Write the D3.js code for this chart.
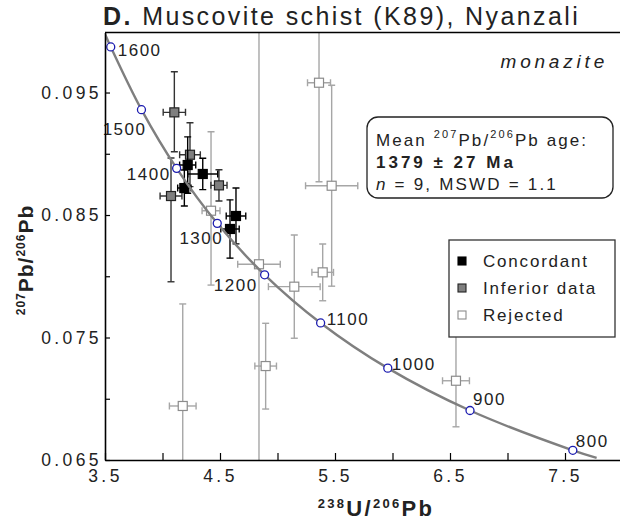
<!DOCTYPE html>
<html>
<head>
<meta charset="utf-8">
<script src="https://cdn.jsdelivr.net/npm/d3@7"></script>
<style>
html, body { margin: 0; padding: 0; background: #fff; }
svg { display: block; font-family: "Liberation Sans", Arial, sans-serif; }
</style>
</head>
<body>
<div id="chart"></div>
<script>
// concordia curve (Tera-Wasserburg), ages in Ma with their ratios
const ages = [1620, 1600, 1500, 1400, 1300, 1200, 1100, 1000, 900, 800, 780];
const concordiaU = [3.500, 3.550, 3.817, 4.123, 4.476, 4.888, 5.375, 5.959, 6.674, 7.568, 7.775];
const concordiaPb = [0.09978, 0.09872, 0.09360, 0.08881, 0.08432, 0.08012, 0.07619, 0.07250, 0.06904, 0.06579, 0.06518];
const markedAges = [1600, 1500, 1400, 1300, 1200, 1100, 1000, 900, 800];

// spots: 238U/206Pb, 207Pb/206Pb, x error, y error below, y error above
const concordant = [
	{ u: 4.219, pb: 0.08908, su: 0.07, lo: 0.0023, hi: 0.0023 },
	{ u: 4.350, pb: 0.08835, su: 0.13, lo: 0.00128, hi: 0.00128 },
	{ u: 4.190, pb: 0.08720, su: 0.058, lo: 0.00147, hi: 0.00147 },
	{ u: 4.639, pb: 0.08492, su: 0.085, lo: 0.00228, hi: 0.00228 },
	{ u: 4.587, pb: 0.08386, su: 0.08, lo: 0.00238, hi: 0.00238 }
];
const inferior = [
	{ u: 4.103, pb: 0.09338, su: 0.097, lo: 0.00322, hi: 0.00331 },
	{ u: 4.239, pb: 0.08992, su: 0.09, lo: 0.0026, hi: 0.00261 },
	{ u: 4.491, pb: 0.08742, su: 0.07, lo: 0.00128, hi: 0.00128 },
	{ u: 4.074, pb: 0.08655, su: 0.095, lo: 0.0070, hi: 0.0031 }
];
const rejected = [
	{ u: 4.422, pb: 0.08535, su: 0.078, lo: 0.00607, hi: 0.00645 },
	{ u: 4.839, pb: 0.08098, su: 0.185, lo: 0.02, hi: 0.02 },
	{ u: 5.361, pb: 0.09580, su: 0.10, lo: 0.00808, hi: 0.00808 },
	{ u: 5.471, pb: 0.08739, su: 0.227, lo: 0.0082, hi: 0.0082 },
	{ u: 5.146, pb: 0.07915, su: 0.225, lo: 0.00421, hi: 0.00422 },
	{ u: 5.393, pb: 0.08032, su: 0.094, lo: 0.00232, hi: 0.00231 },
	{ u: 4.897, pb: 0.07267, su: 0.094, lo: 0.00351, hi: 0.00349 },
	{ u: 4.176, pb: 0.06941, su: 0.116, lo: 0.00833, hi: 0.00833 },
	{ u: 6.552, pb: 0.07147, su: 0.117, lo: 0.00376, hi: 0.00376 }
];

const xTicks = [3.5, 4, 4.5, 5, 5.5, 6, 6.5, 7, 7.5, 8];
const yTicks = [0.065, 0.07, 0.075, 0.08, 0.085, 0.09, 0.095];
const xLabelled = [3.5, 4.5, 5.5, 6.5, 7.5];
const yLabelled = [0.065, 0.075, 0.085, 0.095];

const legendItems = ['Concordant', 'Inferior data', 'Rejected'];

function draw () {
	const W = 620, H = 524;
	const m = { l: 105, t: 32.5, b: 460 };

	const x = d3.scaleLinear().domain([3.5, 8.0]).range([m.l, 622.5]);
	const y = d3.scaleLinear().domain([0.065, 0.0999]).range([m.b, m.t]);

	const svg = d3.select('#chart').append('svg')
		.attr('width', W)
		.attr('height', H);

	svg.append('defs').append('clipPath')
		.attr('id', 'plot')
	.append('rect')
		.attr('x', m.l)
		.attr('y', m.t)
		.attr('width', W - m.l)
		.attr('height', m.b - m.t);

	// title
	const title = svg.append('text')
		.attr('x', 103)
		.attr('y', 25)
		.style('font-size', '25px')
		.style('letter-spacing', '2.4px')
		.style('fill', '#222');
	title.append('tspan').style('font-weight', 'bold').text('D.');
	title.append('tspan').text(' Muscovite schist (K89), Nyanzali');

	// points
	const series = [
		{ data: rejected, fill: '#fff', stroke: '#8c8c8c', bar: '#a6a6a6' },
		{ data: inferior, fill: '#7f7f7f', stroke: '#222', bar: '#333' },
		{ data: concordant, fill: '#000', stroke: '#000', bar: '#000' }
	];
	const plot = svg.append('g').attr('clip-path', 'url(#plot)');
	const cap = 3.5, half = 4.5;

	series.forEach(s => {
		const g = plot.append('g')
			.selectAll('g')
			.data(s.data)
			.join('g')
			.style('stroke', s.bar)
			.style('stroke-width', 1.4)
			.style('fill', 'none');
		g.append('line')
			.attr('x1', d => x(d.u - d.su)).attr('x2', d => x(d.u + d.su))
			.attr('y1', d => y(d.pb)).attr('y2', d => y(d.pb));
		g.append('line')
			.attr('x1', d => x(d.u)).attr('x2', d => x(d.u))
			.attr('y1', d => y(d.pb - d.lo)).attr('y2', d => y(d.pb + d.hi));
		[d => d.u - d.su, d => d.u + d.su].forEach(f => {
			g.append('line')
				.attr('x1', d => x(f(d))).attr('x2', d => x(f(d)))
				.attr('y1', d => y(d.pb) - cap).attr('y2', d => y(d.pb) + cap);
		});
		[d => d.pb - d.lo, d => d.pb + d.hi].forEach(f => {
			g.append('line')
				.attr('x1', d => x(d.u) - cap).attr('x2', d => x(d.u) + cap)
				.attr('y1', d => y(f(d))).attr('y2', d => y(f(d)));
		});
		g.append('rect')
			.attr('x', d => x(d.u) - half)
			.attr('y', d => y(d.pb) - half)
			.attr('width', half * 2)
			.attr('height', half * 2)
			.style('fill', s.fill)
			.style('stroke', s.stroke)
			.style('stroke-width', 1.2);
	});

	// concordia
	const curve = ages.map((a, i) => ({ age: a, u: concordiaU[i], pb: concordiaPb[i] }));
	plot.append('path')
		.datum(curve)
		.attr('d', d3.line()
			.x(d => x(d.u))
			.y(d => y(d.pb))
			.curve(d3.curveCatmullRom.alpha(0.5)))
		.style('fill', 'none')
		.style('stroke', '#7f7f7f')
		.style('stroke-width', 2.4);

	const marks = curve.filter(d => markedAges.includes(d.age));
	plot.append('g')
		.selectAll('circle')
		.data(marks)
		.join('circle')
		.attr('cx', d => x(d.u))
		.attr('cy', d => y(d.pb))
		.attr('r', 4)
		.style('fill', '#fff')
		.style('stroke', '#1c1cb0')
		.style('stroke-width', 1.3);

	// where each age label sits around its circle: dx, dy, anchor
	const agePlace = {
		1600: [7, 9, 'start'], 1500: [5, 25, 'end'], 1400: [-6, 12, 'end'],
		1300: [6, 21, 'end'], 1200: [-7, 16, 'end'], 1100: [6, 2, 'start'],
		1000: [4, 2, 'start'], 900: [3, -5.5, 'start'], 800: [3, -3, 'start']
	};
	svg.append('g')
		.selectAll('text')
		.data(marks)
		.join('text')
		.attr('x', d => x(d.u) + agePlace[d.age][0])
		.attr('y', d => y(d.pb) + agePlace[d.age][1])
		.attr('text-anchor', d => agePlace[d.age][2])
		.style('font-size', '17px')
		.style('letter-spacing', '1.5px')
		.style('fill', '#222')
		.text(d => d.age);

	// axes
	const xAxis = svg.append('g')
		.attr('transform', `translate(0,${m.b})`)
		.call(d3.axisBottom(x)
			.tickValues(xTicks)
			.tickSizeInner(-7)
			.tickSizeOuter(0)
			.tickPadding(10)
			.tickFormat(d => xLabelled.includes(d) ? d3.format('.1f')(d) : ''));
	const yAxis = svg.append('g')
		.attr('transform', `translate(${m.l},0)`)
		.call(d3.axisLeft(y)
			.tickValues(yTicks)
			.tickSizeInner(-5)
			.tickSizeOuter(0)
			.tickPadding(3)
			.tickFormat(d => yLabelled.includes(d) ? d3.format('.3f')(d) : ''));
	svg.append('line')
		.attr('x1', m.l).attr('x2', W)
		.attr('y1', m.t).attr('y2', m.t)
		.style('stroke', '#000')
		.style('stroke-width', 1.6);
	[xAxis, yAxis].forEach(a => {
		a.select('.domain').style('stroke-width', 1.6);
		a.selectAll('.tick line').style('stroke-width', 1.2);
		a.selectAll('.tick text')
			.style('font-family', '"Liberation Sans", Arial, sans-serif')
			.style('font-size', '17.5px')
			.style('letter-spacing', '3.4px')
			.style('fill', '#222');
	});

	// axis titles
	const xt = svg.append('text')
		.attr('x', 376)
		.attr('y', 516)
		.attr('text-anchor', 'middle')
		.style('font-size', '22px')
		.style('font-weight', 'bold')
		.style('letter-spacing', '2.3px')
		.style('fill', '#222');
	supLabel(xt, [['238', true], ['U/', false], ['206', true], ['Pb', false]], 13);

	const yt = svg.append('text')
		.attr('transform', 'translate(33,260) rotate(-90)')
		.attr('text-anchor', 'middle')
		.style('font-size', '21px')
		.style('font-weight', 'bold')
		.style('letter-spacing', '1px')
		.style('fill', '#222');
	supLabel(yt, [['207', true], ['Pb/', false], ['206', true], ['Pb', false]]);

	// mineral tag
	svg.append('text')
		.attr('x', 608)
		.attr('y', 68)
		.attr('text-anchor', 'end')
		.style('font-size', '19px')
		.style('font-style', 'italic')
		.style('letter-spacing', '3.8px')
		.style('fill', '#222')
		.text('monazite');

	// mean age box
	const box = svg.append('g');
	box.append('rect')
		.attr('x', 367).attr('y', 117)
		.attr('width', 246).attr('height', 81)
		.attr('rx', 11)
		.style('fill', '#fff')
		.style('stroke', '#222')
		.style('stroke-width', 1.3);
	const l1 = box.append('text')
		.attr('x', 376).attr('y', 146)
		.style('font-size', '17px')
		.style('letter-spacing', '2.1px')
		.style('fill', '#222');
	l1.append('tspan').text('Mean ');
	supLabel(l1, [['207', true], ['Pb/', false], ['206', true], ['Pb age:', false]], 11);
	box.append('text')
		.attr('x', 376).attr('y', 168)
		.style('font-size', '17px')
		.style('font-weight', 'bold')
		.style('letter-spacing', '3px')
		.style('fill', '#222')
		.text('1379 ± 27 Ma');
	const l3 = box.append('text')
		.attr('x', 376).attr('y', 190)
		.style('font-size', '17px')
		.style('letter-spacing', '2.2px')
		.style('fill', '#222');
	l3.append('tspan').style('font-style', 'italic').text('n');
	l3.append('tspan').text(' = 9, MSWD = 1.1');

	// legend
	const lg = svg.append('g');
	lg.append('rect')
		.attr('x', 449).attr('y', 240)
		.attr('width', 166).attr('height', 97)
		.style('fill', '#fff')
		.style('stroke', '#333')
		.style('stroke-width', 1.3);
	const ly = d3.scalePoint().domain(legendItems).range([261, 315]);
	const lrow = lg.selectAll('g.row')
		.data(series.slice().reverse())
		.join('g')
		.attr('class', 'row')
		.attr('transform', (d, i) => `translate(462,${ly(legendItems[i])})`);
	lrow.append('rect')
		.attr('x', -4).attr('y', -4)
		.attr('width', 8).attr('height', 8)
		.style('fill', d => d.fill)
		.style('stroke', d => d.stroke)
		.style('stroke-width', 1.1);
	lrow.append('text')
		.attr('x', 21)
		.attr('dy', '0.36em')
		.style('font-size', '17px')
		.style('letter-spacing', '1.8px')
		.style('fill', '#222')
		.text((d, i) => legendItems[i]);
}

function supLabel (sel, parts, supSize) {
	const size = supSize || 12;
	let up = false;
	parts.forEach(([t, sup]) => {
		const ts = sel.append('tspan').text(t);
		if (sup && !up) { ts.attr('dy', -8).style('font-size', `${size}px`); up = true; }
		else if (sup) ts.style('font-size', `${size}px`);
		else if (up) { ts.attr('dy', 8); up = false; }
	});
}

draw();
</script>
</body>
</html>
